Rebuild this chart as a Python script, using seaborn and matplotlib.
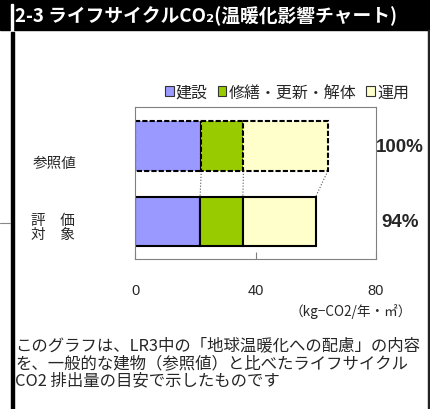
import matplotlib
matplotlib.use("Agg")
import seaborn as sns
import pandas as pd
import matplotlib.pyplot as plt
from matplotlib.patches import Patch, Rectangle

sns.set_theme(style="white")
plt.rcParams['font.family'] = ['Noto Sans CJK JP', 'DejaVu Sans']

# data
categories = ['参照値', '評価対象']
segments = ['建設', '修繕・更新・解体', '運用']
colors = ['#9999FF', '#99CC00', '#FFFFCC']
construction = [22.0, 21.6]
repair = [14.0, 14.2]
operation = [28.0, 24.2]
x_ticks = [0, 40, 80]

title = '2-3 ライフサイクルCO₂(温暖化影響チャート)'
cat_labels = ['参照値', '評\u3000価\n対\u3000象']
unit_label = '（kg−CO2/年・㎡）'
note_lines = [
    'このグラフは、LR3中の「地球温暖化への配慮」の内容',
    'を、一般的な建物（参照値）と比べたライフサイクル',
    'CO2 排出量の目安で示したものです',
]

W, H = 430, 410


def fx(px):
    return px / W


def fy(py):
    return 1 - py / H


df = pd.DataFrame({'category': categories,
                   segments[0]: construction,
                   segments[1]: repair,
                   segments[2]: operation})

fig = plt.figure(figsize=(W / 100, H / 100), dpi=100)
fig.patch.set_facecolor('white')

# frame of the panel
fig.add_artist(Rectangle((0, fy(31)), 1, 31 / H, transform=fig.transFigure, color='black', zorder=0))
fig.add_artist(Rectangle((fx(10.5), fy(33)), 2.2 / W, 28 / H, transform=fig.transFigure, color='white', zorder=1))
fig.add_artist(Rectangle((fx(10.5), 0), 3.5 / W, fy(33), transform=fig.transFigure, color='black', zorder=1))
fig.add_artist(Rectangle((fx(427.5), 0), 2 / W, fy(31), transform=fig.transFigure, color='#222222', zorder=1))
fig.add_artist(plt.Line2D([0, fx(10)], [fy(224), fy(224)], transform=fig.transFigure, color='#888888', lw=0.8))

fig.text(fx(15), fy(16), title, color='white', fontsize=13.5, fontweight='bold', ha='left', va='center',
         zorder=2)

ax = fig.add_axes([fx(135), fy(260), 241 / W, 152 / H])

bar_h = 0.66
left = [0.0] * len(categories)
for seg, col in zip(segments, colors):
    sns.barplot(data=df, x=seg, y='category', left=left, color=col, saturation=1,
                width=bar_h, orient='h', edgecolor='black', linewidth=1.5, ax=ax)
    left = [a + b for a, b in zip(left, df[seg])]

# reference bar outlined with dashes
for p in ax.patches[0::2]:
    p.set_linestyle((0, (2.5, 1)))

# guide lines from reference to evaluated bar
ref_edges = df[segments].iloc[0].cumsum().tolist()
eval_edges = df[segments].iloc[1].cumsum().tolist()
for a, b in zip(ref_edges, eval_edges):
    ax.plot([a, b], [bar_h / 2, 1 - bar_h / 2], color='#555555', lw=0.8, ls=':', zorder=0)

totals = [sum(r) for r in zip(construction, repair, operation)]
for i, t in enumerate(totals):
    ax.text(88, i, f'{round(100 * t / totals[0])}%', ha='center', va='center', fontsize=13.5,
            fontweight='bold', family=['Liberation Sans', 'DejaVu Sans'], clip_on=False)

ax.set_xlim(0, 80)
ax.set_ylim(1.497, -0.517)
ax.set_xticks(x_ticks)
ax.set_yticks([])
ax.set_xlabel('')
ax.set_ylabel('')
ax.tick_params(axis='x', bottom=True, direction='in', length=5, width=0.8, color='#808080',
               pad=17, labelsize=10.5)
for lab in ax.get_xticklabels():
    lab.set_family(['Liberation Sans', 'DejaVu Sans'])
for s in ax.spines.values():
    s.set_color('#808080')
    s.set_linewidth(0.8)

fig.text(fx(55), fy(164), cat_labels[0], ha='center', va='center', fontsize=10.5)
fig.text(fx(53), fy(228), cat_labels[1], ha='center', va='center', fontsize=10.5, linespacing=1.0)

fig.text(fx(412), fy(312), unit_label, ha='right', va='center', fontsize=9.8)

handles = [Patch(facecolor=c, edgecolor='#333333', linewidth=0.8) for c in colors]
fig.legend(handles, segments, loc='center', bbox_to_anchor=(fx(287), fy(93)), ncol=3,
           frameon=False, handlelength=0.55, handleheight=0.55, handletextpad=0.15,
           columnspacing=0.6, fontsize=11.5, borderpad=0, borderaxespad=0)

for k, line in enumerate(note_lines):
    fig.text(fx(15), fy(346 + 17.5 * k), line, ha='left', va='center', fontsize=11.8)

fig.savefig('out.png', dpi=100)
